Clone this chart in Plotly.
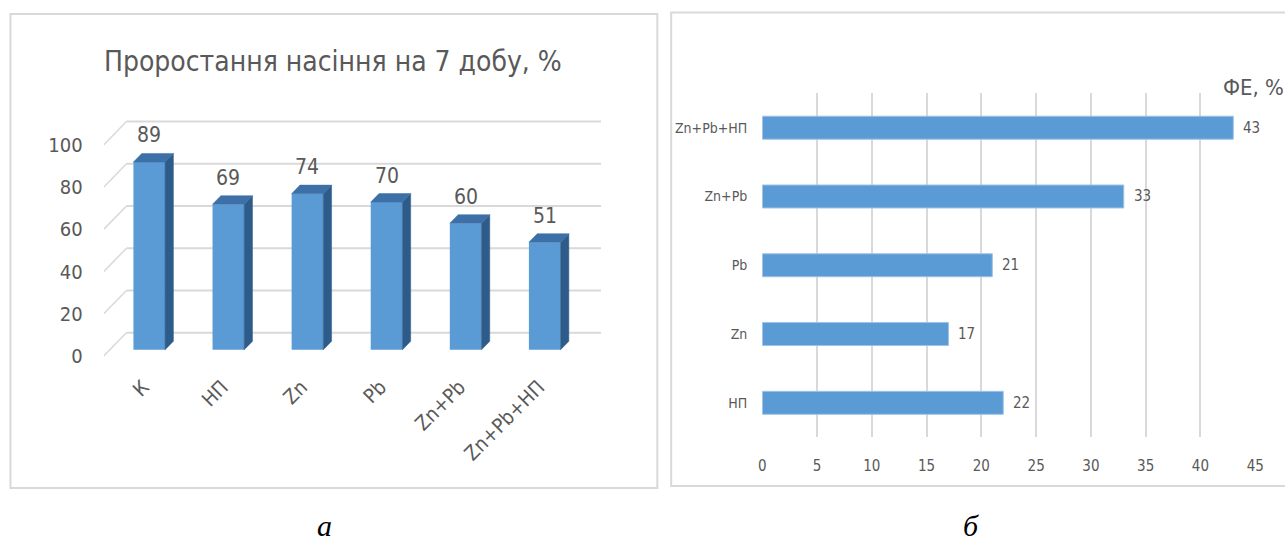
import plotly.graph_objects as go

# ---- data -------------------------------------------------------------
germ_categories = ["К", "НП", "Zn", "Pb", "Zn+Pb", "Zn+Pb+НП"]
germ_values = [89, 69, 74, 70, 60, 51]
germ_ticks = [0, 20, 40, 60, 80, 100]

fe_categories = ["НП", "Zn", "Pb", "Zn+Pb", "Zn+Pb+НП"]
fe_values = [22, 17, 21, 33, 43]
fe_ticks = [0, 5, 10, 15, 20, 25, 30, 35, 40, 45]

# ---- styling ------------------------------------------------------------
W, H = 1285, 547
FONT = "DejaVu Sans Condensed, Liberation Sans Narrow, sans-serif"
TXT = "#595959"
GRID = "#D9D9D9"
FRONT = "#5B9BD5"
SIDE = "#2E5C8A"
TOP = "#3D70A6"

# pseudo-3D depth of the left chart (category units / value units)
DEPTH_X = 0.288
DEPTH_Y = 11.06
BAR_FRONT = 0.265   # fraction of depth where bar front faces sit
BAR_DEPTH = 0.365   # fraction of depth occupied by a bar
BAR_W = 0.4


def px(x):
    return x / W


def py(y):
    return 1 - y / H


fig = go.Figure()

# ---- left chart: walls (shapes sit below every trace) ----------------------
x_left, x_right = -0.5, 5.5
for k in germ_ticks:
    fig.add_shape(type="line", xref="x", yref="y",
                  x0=x_left + DEPTH_X, x1=x_right + DEPTH_X,
                  y0=k + DEPTH_Y, y1=k + DEPTH_Y,
                  line=dict(color=GRID, width=2), layer="below")
    fig.add_shape(type="line", xref="x", yref="y",
                  x0=x_left, x1=x_left + DEPTH_X, y0=k, y1=k + DEPTH_Y,
                  line=dict(color=GRID, width=1.5), layer="below")

# ---- left chart: bars -------------------------------------------------------
fx = BAR_FRONT * DEPTH_X
fy = BAR_FRONT * DEPTH_Y
bx = BAR_DEPTH * DEPTH_X
by = BAR_DEPTH * DEPTH_Y
centers = [i + fx for i in range(len(germ_values))]

side_x, side_y, top_x, top_y = [], [], [], []
for c, v in zip(centers, germ_values):
    r = c + BAR_W / 2
    l = c - BAR_W / 2
    side_x += [r, r + bx, r + bx, r, r, None]
    side_y += [fy, fy + by, fy + v + by, fy + v, fy, None]
    top_x += [l, l + bx, r + bx, r, l, None]
    top_y += [fy + v, fy + v + by, fy + v + by, fy + v, fy + v, None]

fig.add_trace(go.Bar(x=centers, y=germ_values, base=fy, width=BAR_W,
                     marker=dict(color=FRONT, line=dict(width=0)),
                     showlegend=False, xaxis="x", yaxis="y"))
fig.add_trace(go.Scatter(x=side_x, y=side_y, fill="toself", fillcolor=SIDE,
                         mode="lines", line=dict(color=SIDE, width=0.5),
                         hoverinfo="skip", showlegend=False, xaxis="x", yaxis="y"))
fig.add_trace(go.Scatter(x=top_x, y=top_y, fill="toself", fillcolor=TOP,
                         mode="lines", line=dict(color=TOP, width=0.5),
                         hoverinfo="skip", showlegend=False, xaxis="x", yaxis="y"))

for c, v in zip(centers, germ_values):
    fig.add_annotation(x=c, y=fy + v + by, xref="x", yref="y", text=str(v),
                       showarrow=False, yanchor="bottom", yshift=4,
                       font=dict(family=FONT, size=21, color=TXT))

# ---- right chart -----------------------------------------------------------
fig.add_trace(go.Bar(y=fe_categories, x=fe_values, orientation="h",
                     marker=dict(color=FRONT, line=dict(color="#9DC3E6", width=1)),
                     showlegend=False, xaxis="x2", yaxis="y2"))
for cat, v in zip(fe_categories, fe_values):
    fig.add_annotation(x=v, y=cat, xref="x2", yref="y2", text=str(v),
                       showarrow=False, xanchor="left", xshift=8,
                       font=dict(family=FONT, size=15, color=TXT))

# ---- layout ----------------------------------------------------------------
x0_px, cat_px = 100.7, 79.9
x_hi = 5.9
y_lo, y_hi = -5, 115
y0_px, val_px = 356.7, 2.115

fig.update_layout(
    width=W, height=H,
    margin=dict(l=0, r=0, t=0, b=0),
    paper_bgcolor="white", plot_bgcolor="white",
    bargap=0.666,
    xaxis=dict(
        domain=[px(x0_px), px(x0_px + (x_hi - x_left) * cat_px)],
        range=[x_left, x_hi], showgrid=False, zeroline=False, showline=False,
        tickmode="array", tickvals=list(range(len(germ_categories))),
        ticktext=germ_categories, tickangle=-45, ticks="",
        ticklabelstandoff=4,
        tickfont=dict(family=FONT, size=20, color=TXT), fixedrange=True),
    yaxis=dict(
        domain=[py(y0_px - y_lo * val_px), py(y0_px - y_hi * val_px)],
        range=[y_lo, y_hi], showgrid=False, zeroline=False, showline=False,
        tickmode="array", tickvals=germ_ticks, ticks="",
        ticklabelstandoff=20,
        tickfont=dict(family=FONT, size=20, color=TXT), fixedrange=True),
    xaxis2=dict(
        domain=[px(766), px(1264)], range=[0, 45], anchor="y2",
        showgrid=True, gridcolor=GRID, gridwidth=1.5, zeroline=False,
        showline=False, tickmode="array", tickvals=fe_ticks, ticks="",
        ticklabelstandoff=18,
        tickfont=dict(family=FONT, size=15, color=TXT), fixedrange=True),
    yaxis2=dict(
        domain=[py(438), py(93.5)], anchor="x2",
        categoryorder="array", categoryarray=fe_categories,
        showgrid=False, zeroline=False, showline=False, ticks="",
        ticklabelstandoff=14,
        tickfont=dict(family=FONT, size=14, color=TXT), fixedrange=True),
)

# panel frames
fig.add_shape(type="rect", xref="paper", yref="paper",
              x0=px(6.5), x1=px(660), y0=py(489), y1=py(14),
              line=dict(color=GRID, width=2), fillcolor="rgba(0,0,0,0)", layer="below")
fig.add_shape(type="rect", xref="paper", yref="paper",
              x0=px(674), x1=px(1300), y0=py(487), y1=py(12.5),
              line=dict(color=GRID, width=2), fillcolor="rgba(0,0,0,0)", layer="below")

# titles and captions
fig.add_annotation(x=px(332), y=py(62), xref="paper", yref="paper",
                   text="Проростання насіння на 7 добу, %", showarrow=False,
                   xanchor="center", yanchor="middle",
                   font=dict(family=FONT, size=28, color=TXT))
fig.add_annotation(x=px(1229), y=py(88), xref="paper", yref="paper",
                   text="ФЕ, %", showarrow=False, xanchor="left", yanchor="middle",
                   font=dict(family=FONT, size=22, color=TXT))
fig.add_annotation(x=px(324), y=py(526), xref="paper", yref="paper",
                   text="<i>а</i>", showarrow=False, xanchor="center", yanchor="middle",
                   font=dict(family="Liberation Serif, serif", size=30, color="black"))
fig.add_annotation(x=px(977), y=py(526), xref="paper", yref="paper",
                   text="<i>б</i>", showarrow=False, xanchor="center", yanchor="middle",
                   font=dict(family="Liberation Serif, serif", size=30, color="black"))

fig.write_html("out.html")
